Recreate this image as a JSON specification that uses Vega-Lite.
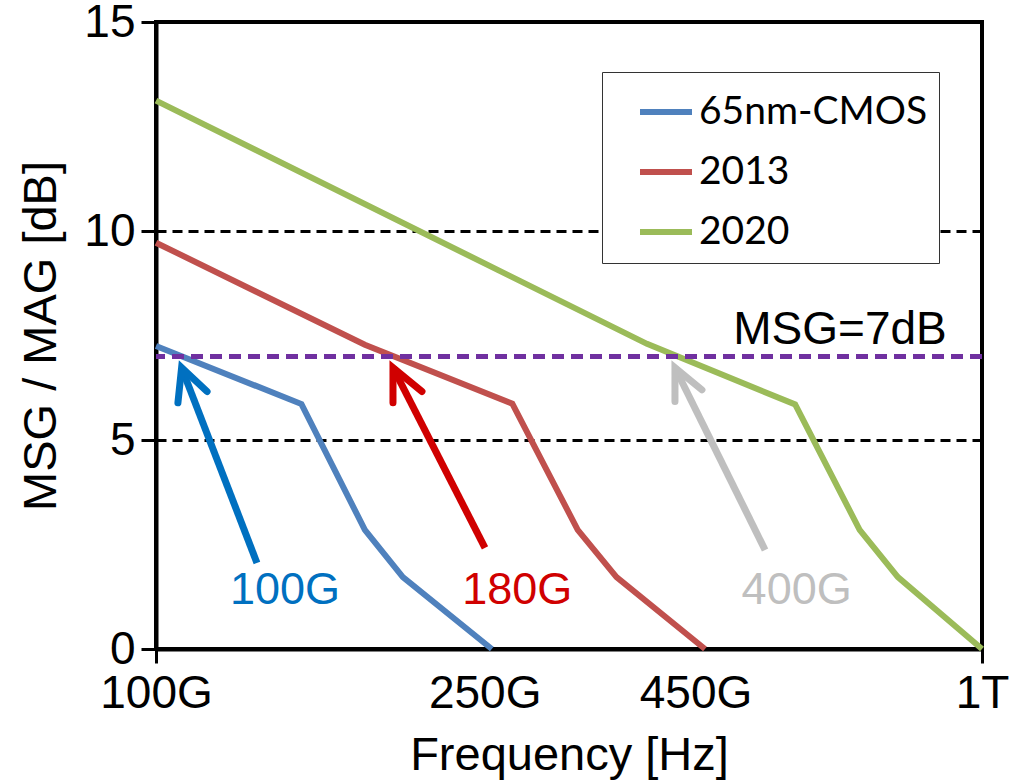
{
  "$schema": "https://vega.github.io/schema/vega-lite/v6.json",
  "width": 826,
  "height": 627,
  "autosize": {"type": "none"},
  "padding": {"left": 156, "top": 22, "right": 41, "bottom": 134},
  "background": "white",
  "config": {
    "view": {"stroke": "black", "strokeWidth": 4},
    "font": "Liberation Sans"
  },
  "datasets": {
    "series": [
      {"name": "65nm-CMOS", "f": 100, "db": 7.25},
      {"name": "65nm-CMOS", "f": 150, "db": 5.86},
      {"name": "65nm-CMOS", "f": 179, "db": 2.85},
      {"name": "65nm-CMOS", "f": 199, "db": 1.72},
      {"name": "65nm-CMOS", "f": 255, "db": 0},
      {"name": "2013", "f": 100, "db": 9.72},
      {"name": "2013", "f": 179, "db": 7.28},
      {"name": "2013", "f": 270, "db": 5.87},
      {"name": "2013", "f": 324, "db": 2.85},
      {"name": "2013", "f": 361, "db": 1.72},
      {"name": "2013", "f": 462, "db": 0},
      {"name": "2020", "f": 100, "db": 13.12},
      {"name": "2020", "f": 393, "db": 7.3},
      {"name": "2020", "f": 594, "db": 5.85},
      {"name": "2020", "f": 711, "db": 2.85},
      {"name": "2020", "f": 791, "db": 1.72},
      {"name": "2020", "f": 1000, "db": 0}
    ],
    "msg": [
      {"db": 7}
    ],
    "shafts": [
      {"label": "100G", "f": 132.5, "db": 2.06, "f2": 107.4, "db2": 6.73},
      {"label": "180G", "f": 250.2, "db": 2.42, "f2": 193.6, "db2": 6.73},
      {"label": "400G", "f": 546.2, "db": 2.37, "f2": 424.9, "db2": 6.73}
    ],
    "heads": [
      {"label": "100G", "o": 1, "f": 106.3, "db": 5.89},
      {"label": "100G", "o": 2, "f": 107.4, "db": 6.73},
      {"label": "100G", "o": 3, "f": 115.3, "db": 6.16},
      {"label": "180G", "o": 1, "f": 193.6, "db": 5.89},
      {"label": "180G", "o": 2, "f": 193.6, "db": 6.73},
      {"label": "180G", "o": 3, "f": 209.9, "db": 6.16},
      {"label": "400G", "o": 1, "f": 424.9, "db": 5.92},
      {"label": "400G", "o": 2, "f": 424.9, "db": 6.73},
      {"label": "400G", "o": 3, "f": 458.1, "db": 6.2}
    ],
    "labels": [
      {"label": "100G", "f": 143.3, "db": 1.41},
      {"label": "180G", "f": 273.7, "db": 1.41},
      {"label": "400G", "f": 596.5, "db": 1.41}
    ],
    "notes": [
      {"text": "MSG=7dB", "f": 673.2, "db": 7.64}
    ]
  },
  "layer": [
    {
      "data": {"name": "series"},
      "mark": {"type": "line", "strokeWidth": 6, "strokeJoin": "miter"},
      "encoding": {
        "x": {
          "field": "f", "type": "quantitative",
          "scale": {"type": "log", "domain": [100, 1000]},
          "axis": {
            "values": [100, 250, 450, 1000],
            "labelExpr": "datum.value == 1000 ? '1T' : datum.value + 'G'",
            "labelFlush": false,
            "labelOverlap": false,
            "labelFontSize": 46,
            "labelColor": "black",
            "labelPadding": 8,
            "tickSize": 14,
            "tickWidth": 3,
            "tickColor": {"condition": {"test": "datum.value == 250 || datum.value == 450", "value": "transparent"}, "value": "black"},
            "domainColor": "black",
            "domainWidth": 4,
            "grid": false,
            "title": "Frequency [Hz]",
            "titleFontSize": 47,
            "titleFontWeight": "normal",
            "titleColor": "black",
            "titlePadding": 16
          }
        },
        "y": {
          "field": "db", "type": "quantitative",
          "scale": {"domain": [0, 15], "nice": false},
          "axis": {
            "values": [0, 5, 10, 15],
            "labelFontSize": 46,
            "labelColor": "black",
            "labelPadding": 6,
            "tickSize": 15,
            "tickWidth": 3,
            "tickColor": "black",
            "domainColor": "black",
            "domainWidth": 4,
            "grid": true,
            "gridColor": "black",
            "gridDash": [10, 6],
            "gridWidth": 3,
            "title": "MSG / MAG [dB]",
            "titleFontSize": 47,
            "titleFontWeight": "normal",
            "titleColor": "black",
            "titlePadding": 18
          }
        },
        "color": {
          "field": "name", "type": "nominal",
          "scale": {
            "domain": ["65nm-CMOS", "2013", "2020", "100G", "180G", "400G"],
            "range": ["#4F81BD", "#C0504D", "#9BBB59", "#0070C0", "#D00000", "#BFBFBF"]
          },
          "legend": {
            "values": ["65nm-CMOS", "2013", "2020"],
            "title": null,
            "orient": "none",
            "legendX": 446,
            "legendY": 50,
            "fillColor": "white",
            "strokeColor": "#333333",
            "padding": 11,
            "symbolType": "stroke",
            "symbolSize": 2704,
            "symbolStrokeWidth": 6,
            "symbolOffset": 24,
            "labelFont": "Lato",
            "labelFontSize": 39,
            "labelColor": "black",
            "labelOffset": 4,
            "labelLimit": 400,
            "rowPadding": 11
          }
        }
      }
    },
    {
      "data": {"name": "msg"},
      "mark": {"type": "rule", "color": "#7030A0", "strokeWidth": 5, "strokeDash": [12, 7]},
      "encoding": {"y": {"field": "db", "type": "quantitative"}}
    },
    {
      "data": {"name": "shafts"},
      "mark": {"type": "rule", "strokeWidth": 7, "strokeCap": "butt"},
      "encoding": {
        "x": {"field": "f", "type": "quantitative"},
        "y": {"field": "db", "type": "quantitative"},
        "x2": {"field": "f2"},
        "y2": {"field": "db2"},
        "color": {"field": "label", "type": "nominal"}
      }
    },
    {
      "data": {"name": "heads"},
      "mark": {"type": "line", "strokeWidth": 7, "strokeCap": "round", "strokeJoin": "miter"},
      "encoding": {
        "x": {"field": "f", "type": "quantitative"},
        "y": {"field": "db", "type": "quantitative"},
        "order": {"field": "o", "type": "quantitative"},
        "color": {"field": "label", "type": "nominal"}
      }
    },
    {
      "data": {"name": "labels"},
      "mark": {"type": "text", "fontSize": 45, "align": "center", "baseline": "middle"},
      "encoding": {
        "x": {"field": "f", "type": "quantitative"},
        "y": {"field": "db", "type": "quantitative"},
        "text": {"field": "label"},
        "color": {"field": "label", "type": "nominal"}
      }
    },
    {
      "data": {"name": "notes"},
      "mark": {"type": "text", "fontSize": 46, "align": "center", "baseline": "middle", "color": "black"},
      "encoding": {
        "x": {"field": "f", "type": "quantitative"},
        "y": {"field": "db", "type": "quantitative"},
        "text": {"field": "text"}
      }
    }
  ]
}
